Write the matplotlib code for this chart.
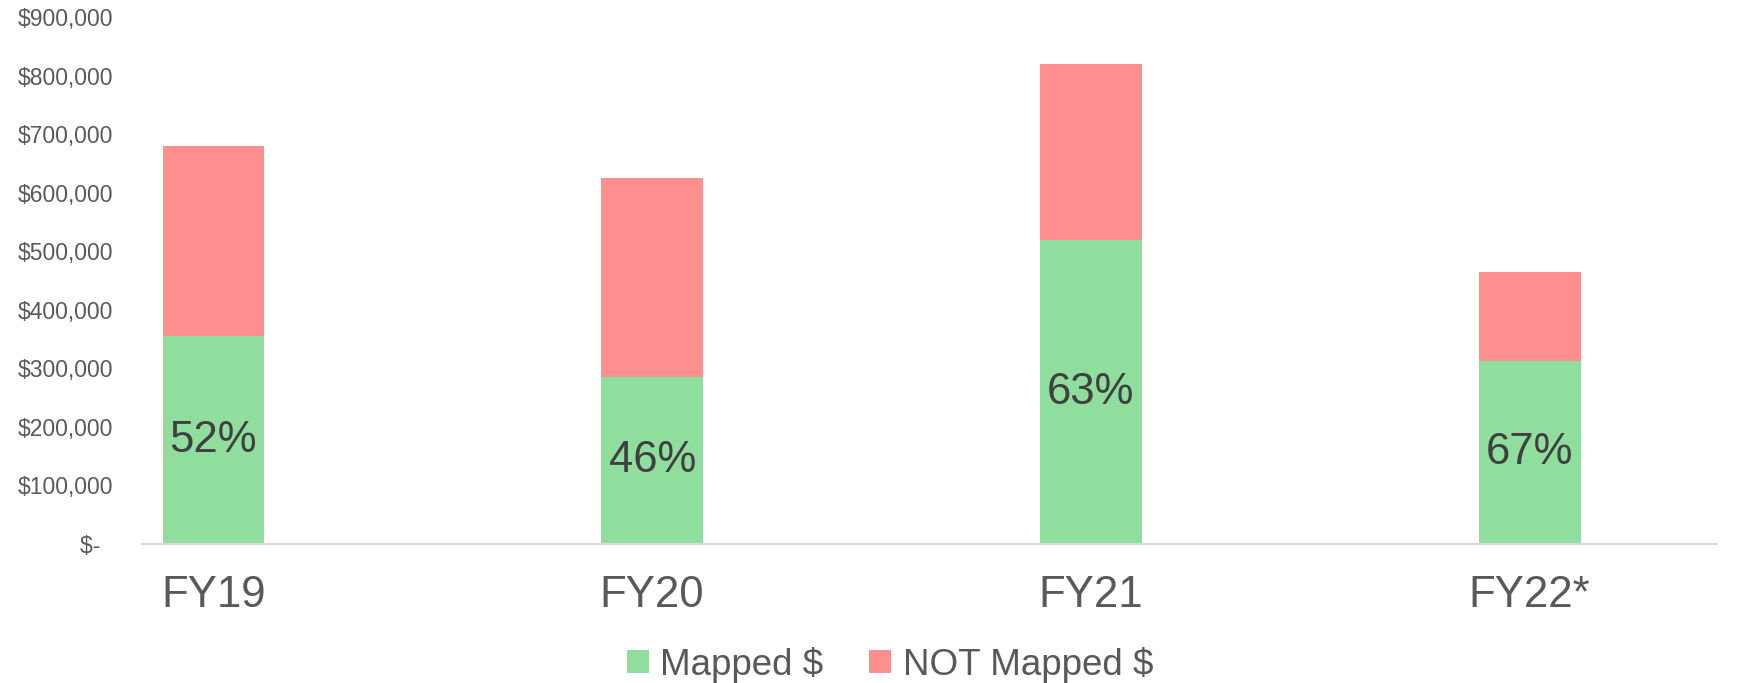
import matplotlib.pyplot as plt
from matplotlib.ticker import FuncFormatter

# values (USD)
years = ["FY19", "FY20", "FY21", "FY22*"]
mapped = [355000, 286000, 519000, 313000]
not_mapped = [324000, 339000, 301000, 152000]
pct_labels = ["52%", "46%", "63%", "67%"]

GREEN = "#8FDE9E"
RED = "#FF8E8E"
TEXT = "#595959"

plt.rcParams['font.family'] = ['Liberation Sans', 'DejaVu Sans']

fig = plt.figure(figsize=(17.52, 6.83), dpi=100)
ax = fig.add_axes([0.081, 0.2035, 0.899, 0.7715])

x = list(range(len(years)))
ax.bar(x, mapped, width=0.232, color=GREEN, label="Mapped $")
ax.bar(x, not_mapped, width=0.232, bottom=mapped, color=RED, label="NOT Mapped $")

# percentage labels in the middle of the green segment
for xi, m, lab in zip(x, mapped, pct_labels):
    ax.text(xi, m / 2, lab, ha="center", va="center", fontsize=31.5, color="#404040")

ax.set_xlim(-0.163, 3.427)
ax.set_ylim(0, 900000)
ax.set_yticks(range(0, 900001, 100000))


def money(v, pos):
    if v == 0:
        return "$-  "
    return "${:,.0f}".format(v)


ax.yaxis.set_major_formatter(FuncFormatter(money))
ax.set_xticks(x)
ax.set_xticklabels(years, fontsize=31.5, color=TEXT)
ax.tick_params(axis="y", labelsize=16.5, labelcolor=TEXT, length=0, pad=21)
ax.tick_params(axis="x", length=0, pad=22)

for side in ["top", "right", "left"]:
    ax.spines[side].set_visible(False)
ax.spines["bottom"].set_color("#D9D9D9")
ax.spines["bottom"].set_linewidth(1.5)

leg = fig.legend(loc="lower center", bbox_to_anchor=(0.508, -0.048), ncol=2,
                 frameon=False, fontsize=26.5, handlelength=0.6, handleheight=0.6,
                 handletextpad=0.3, columnspacing=1.25)
for t in leg.get_texts():
    t.set_color(TEXT)

plt.savefig("out.png", dpi=100)
plt.close()
